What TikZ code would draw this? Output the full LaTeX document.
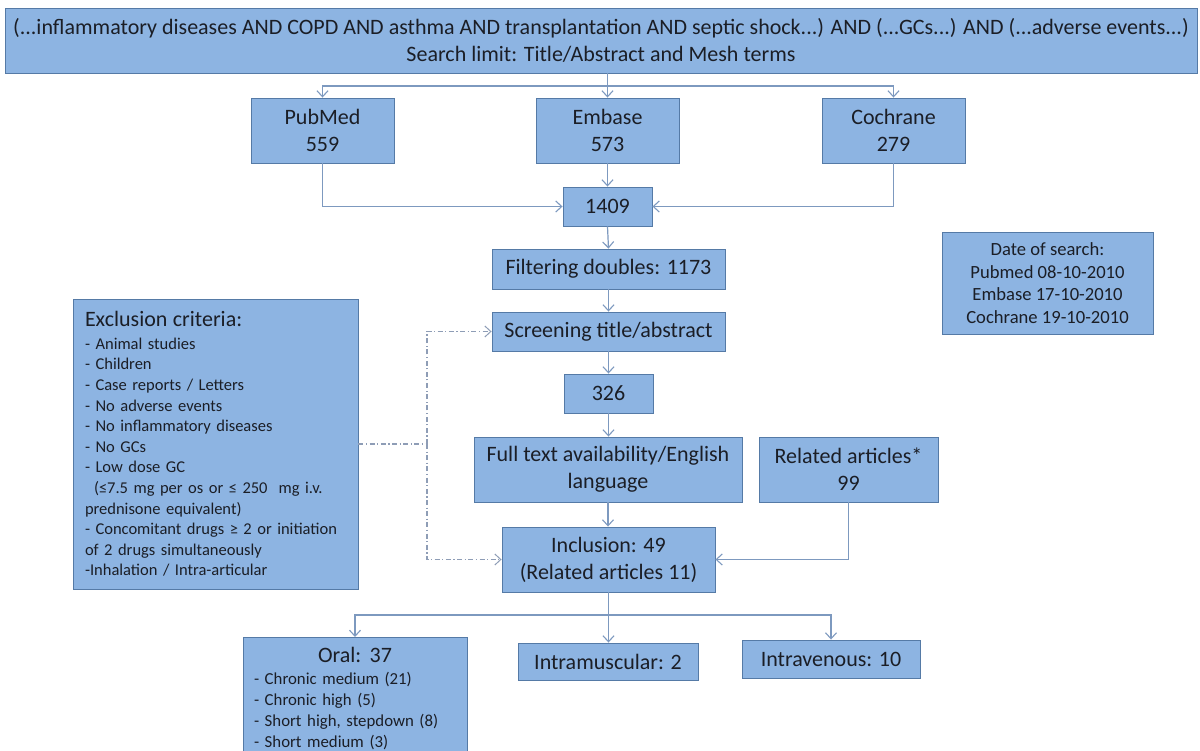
\documentclass[tikz,border=0pt]{standalone}
\usepackage{fontspec}
\setmainfont{Carlito}
\usetikzlibrary{arrows.meta}
\definecolor{boxfill}{HTML}{8DB4E2}
\definecolor{boxline}{HTML}{557AA6}
\definecolor{connc}{HTML}{7D99BF}
\definecolor{ddc}{HTML}{8E9DB6}
\definecolor{txt}{HTML}{1B1E26}
\tikzset{
  x=1pt, y=-1pt,
  box/.style={draw=boxline, fill=boxfill, line width=0.9pt, inner sep=0pt, align=center, text=txt,
    font=\fontsize{22}{27}\selectfont},
  ln/.style={draw=connc, line width=1.2pt},
  arr/.style={ln, -{Straight Barb[length=6pt,width=11pt,line width=1.1pt]}},
  dd/.style={draw=ddc, line width=1.1pt, dash pattern=on 5pt off 2.5pt on 1.2pt off 2.5pt},
  ddarr/.style={dd, -{Straight Barb[length=6pt,width=11pt,line width=1pt]}},
}
\begin{document}
\begin{tikzpicture}
\fill[white] (0,0) rectangle (1200,751);
\clip (0,0) rectangle (1200,751);
\useasboundingbox (0,0) rectangle (1200,751);

\node[box, minimum width=1192pt, minimum height=65pt, font=\fontsize{22}{27}\selectfont] (top) at (601,40.5)
  {(...inflammatory diseases AND COPD AND asthma AND transplantation AND septic shock...) AND (...GCs...) AND (...adverse events...)\\Search limit: Title/Abstract and Mesh terms};

\node[box, minimum width=143pt, minimum height=65pt] (pubmed) at (322.5,130.5) {PubMed\\559};
\node[box, minimum width=143pt, minimum height=65pt] (embase) at (607.5,130.5) {Embase\\573};
\node[box, minimum width=143pt, minimum height=65pt] (cochrane) at (893.5,130.5) {Cochrane\\279};

\node[box, minimum width=89pt, minimum height=39pt] (n1409) at (607.5,206.5) {1409};
\node[box, minimum width=233pt, minimum height=40pt] (filter) at (608.5,269) {Filtering doubles: 1173};
\node[box, minimum width=233pt, minimum height=39pt] (screen) at (608.5,331.5) {Screening title/abstract};
\node[box, minimum width=89pt, minimum height=39pt] (n326) at (608.5,393.5) {326};
\node[box, minimum width=268pt, minimum height=65pt] (full) at (608,469.5) {Full text availability/English\\language};
\node[box, minimum width=179pt, minimum height=65pt] (related) at (848.5,469.5) {Related articles*\\99};
\node[box, minimum width=213pt, minimum height=65pt] (incl) at (608.5,559.5) {Inclusion: 49\\(Related articles 11)};

\node[box, minimum width=211pt, minimum height=102pt, font=\fontsize{18.6}{22.7}\selectfont] (date) at (1047.5,283)
  {Date of search:\\Pubmed 08-10-2010\\Embase 17-10-2010\\Cochrane 19-10-2010};

\node[box, minimum width=285pt, minimum height=290pt, text width=261pt, align=left,
      font=\fontsize{16.5}{20.6}\selectfont] (excl) at (215.5,444)
  {{\fontsize{22}{24}\selectfont Exclusion criteria:}\\[2pt]
   - Animal studies\\
   - Children\\
   - Case reports / Letters\\
   - No adverse events\\
   - No inflammatory diseases\\
   - No GCs\\
   - Low dose GC\\
   \hspace*{9pt}(≤7.5 mg per os or ≤ 250\ \ mg i.v.\\
   prednisone equivalent)\\
   - Concomitant drugs ≥ 2 or initiation\\
   of 2 drugs simultaneously\\
   -Inhalation / Intra-articular};

\node[box, anchor=north, minimum width=224pt, minimum height=122pt, text width=202pt, align=left,
      font=\fontsize{16.8}{21}\selectfont] (oral) at (355,637)
  {\makebox[\hsize][c]{\fontsize{22}{24}\selectfont Oral: 37}\\[1pt]
   - Chronic medium (21)\\
   - Chronic high (5)\\
   - Short high, stepdown (8)\\
   - Short medium (3)};
\node[box, minimum width=180pt, minimum height=37pt] (im) at (608,661.5) {Intramuscular: 2};
\node[box, minimum width=178pt, minimum height=38pt] (iv) at (831,659) {Intravenous: 10};

% top branching
\coordinate (br1) at (607.5,86);
\draw[ln] (top.south -| br1) -- (br1);
\draw[arr] (br1) -| (pubmed.north);
\draw[arr] (br1) -| (cochrane.north);
\draw[arr] (br1) -- (embase.north);

\draw[arr] (pubmed.south) |- (n1409.west);
\draw[arr] (cochrane.south) |- (n1409.east);
\draw[arr] (embase.south) -- (n1409.north);
\draw[arr] (n1409.south) -- (filter.north);
\draw[arr] (filter.south) -- (screen.north);
\draw[arr] (screen.south) -- (n326.north);
\draw[arr] (n326.south) -- (full.north -| n326.south);
\draw[arr] (full.south) -- (incl.north -| full.south);
\draw[arr] (related.south) |- (incl.east);

% exclusion dash-dot
\coordinate (dx) at (427,444);
\draw[dd] (excl.east) -- (dx);
\draw[ddarr] (dx) |- (screen.west);
\draw[ddarr] (dx) |- (incl.west);

% bottom branching
\coordinate (br2) at (608.5,615);
\draw[ln] (incl.south) -- (br2);
\draw[arr] (br2) -| (oral.north);
\draw[arr] (br2) -| (iv.north);
\draw[arr] (br2) -- (im.north -| br2);
\end{tikzpicture}
\end{document}
